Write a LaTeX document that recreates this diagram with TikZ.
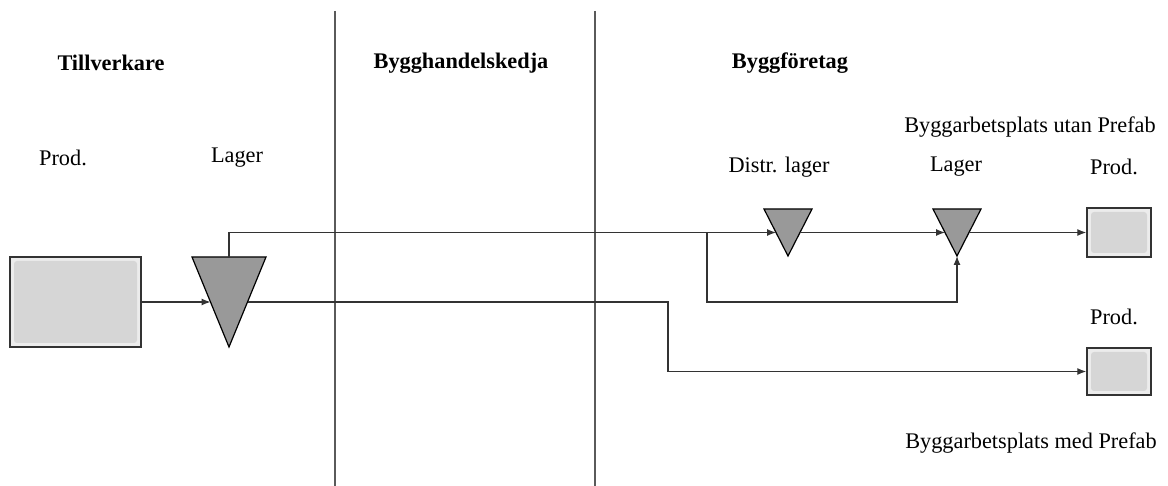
\documentclass[tikz,border=0pt]{standalone}
\usepackage{fontspec}
\setmainfont{Liberation Serif}
\usetikzlibrary{calc,arrows.meta}
\definecolor{linegray}{HTML}{333333}
\definecolor{sepgray}{HTML}{5A5A5A}
\definecolor{trifill}{HTML}{999999}
\definecolor{boxfill}{HTML}{D6D6D6}
\definecolor{boxedge}{HTML}{ECECEC}
\begin{document}
\begin{tikzpicture}[x=1pt,y=-1pt,
  conn/.style={draw=linegray,line width=1.2pt},
  arr/.style={conn,-{Latex[length=9pt,width=7pt]}},
  sep/.style={draw=sepgray,line width=1.4pt},
  tri/.style={draw=black,fill=trifill,line width=1.2pt,line join=miter},
  prodbox/.style={draw=linegray,fill=boxedge,line width=1.5pt,inner sep=0pt,
    path picture={\fill[boxfill,rounded corners=3pt]
      ([shift={(4pt,4pt)}]path picture bounding box.south west) rectangle
      ([shift={(-4pt,-4pt)}]path picture bounding box.north east);}},
  lbl/.style={font=\fontsize{22.3}{26}\selectfont,inner sep=0pt},
  head/.style={lbl,font=\fontsize{22.3}{26}\selectfont\bfseries}]
\useasboundingbox (0,0) rectangle (1168,486);
% separators
\coordinate (S1t) at (335,11); \coordinate (S1b) at (335,486);
\coordinate (S2t) at (595,11); \coordinate (S2b) at (595,486);
\draw[sep] (S1t) -- (S1b);
\draw[sep] (S2t) -- (S2b);
% headings
\node[head] (h1) at (111,63) {Tillverkare};
\node[head] (h2) at (461,63) {Bygghandelskedja};
\node[head] (h3) at (790,63) {Byggföretag};
% labels
\node[lbl] (l1) at (63,158) {Prod.};
\node[lbl] (l2) at (237,158) {Lager};
\node[lbl] (l3) at (779,167) {Distr. lager};
\node[lbl] (l4) at (956,167) {Lager};
\node[lbl] (l5) at (1114,167) {Prod.};
\node[lbl] (l6) at (1114,317) {Prod.};
\node[lbl] (l7) at (1030,127) {Byggarbetsplats utan Prefab};
\node[lbl] (l8) at (1031,443) {Byggarbetsplats med Prefab};
% production boxes
\node[prodbox,minimum width=131pt,minimum height=90pt] (P0) at (75.5,302) {};
\node[prodbox,minimum width=64pt,minimum height=49pt] (P1) at (1119,232.5) {};
\node[prodbox,minimum width=64pt,minimum height=47pt] (P2) at (1119,371.5) {};
% triangles
\coordinate (Al) at (192,257); \coordinate (Ar) at (266,257); \coordinate (Aa) at (229,347);
\draw[tri] (Al) -- (Ar) -- (Aa) -- cycle;
\coordinate (Ain) at ($(Al)!0.5!(Aa)$);
\coordinate (Aout) at ($(Ar)!0.5!(Aa)$);
\coordinate (Atop) at ($(Al)!0.5!(Ar)$);
\coordinate (Dl) at (764,209); \coordinate (Dr) at (812,209); \coordinate (Da) at (788,256);
\draw[tri] (Dl) -- (Dr) -- (Da) -- cycle;
\coordinate (Din) at ($(Dl)!0.5!(Da)$);
\coordinate (Dout) at ($(Dr)!0.5!(Da)$);
\coordinate (Ll) at (933,209); \coordinate (Lr) at (981,209); \coordinate (La) at (957,256);
\draw[tri] (Ll) -- (Lr) -- (La) -- cycle;
\coordinate (Lin) at ($(Ll)!0.5!(La)$);
\coordinate (Lout) at ($(Lr)!0.5!(La)$);
% connectors
\draw[arr] (P0.east) -- (Ain);
\draw[arr] (Atop) |- (Din);
\coordinate (J) at (707,232.5);
\coordinate (Jb) at (707,302);
\draw[arr] (J) -- (Jb) -| (La);
\draw[arr] (Dout) -- (Lin);
\draw[arr] (Lout) -- (P1.west);
\coordinate (K) at (668,302);
\draw[arr] (Aout) -- (K) |- (P2.west);
\end{tikzpicture}
\end{document}
